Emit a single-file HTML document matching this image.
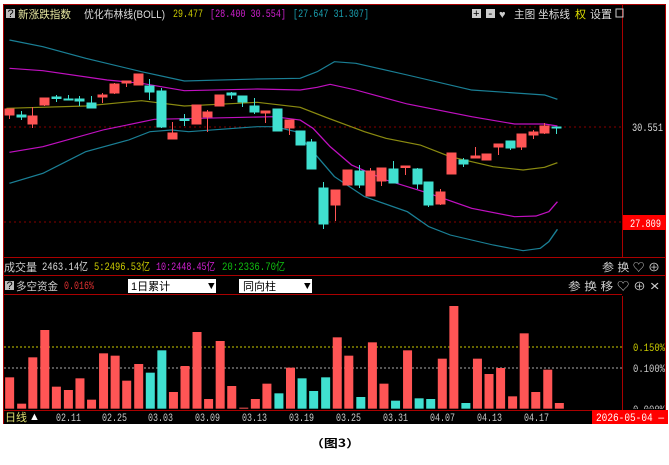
<!DOCTYPE html>
<html><head><meta charset="utf-8"><style>
html,body{margin:0;padding:0;background:#fff;width:669px;height:465px;overflow:hidden}
svg{display:block}
text{font-family:"Liberation Mono","Noto Sans CJK SC",monospace;font-size:11px}
.c{font-family:"Liberation Sans","Noto Sans CJK SC",sans-serif}
</style></head><body>
<svg width="669" height="465" viewBox="0 0 669 465" xmlns="http://www.w3.org/2000/svg">
<rect x="3" y="4" width="663" height="420" fill="#000"/>
<g stroke="#a00" stroke-width="1" fill="none">
<line x1="3" y1="4.5" x2="666" y2="4.5"/>
<line x1="3.5" y1="4" x2="3.5" y2="424"/>
<line x1="665.5" y1="4" x2="665.5" y2="424"/>
<line x1="622.5" y1="4" x2="622.5" y2="258"/>
<line x1="622.5" y1="296" x2="622.5" y2="410"/>
<line x1="3" y1="257.5" x2="666" y2="257.5"/>
<line x1="3" y1="275.5" x2="666" y2="275.5"/>
<line x1="3" y1="294.5" x2="622" y2="294.5"/>
<line x1="3" y1="410.5" x2="622" y2="410.5"/>
</g>
<rect x="6" y="9" width="9" height="9" fill="#bbb"/><text x="7.5" y="17" fill="#000" font-size="9">?</text>
<text x="18" y="18" class="c" fill="#e6e6a0" font-size="12" textLength="53" lengthAdjust="spacingAndGlyphs">新涨跌指数</text>
<text x="84" y="18" class="c" fill="#ddd" font-size="12" textLength="81" lengthAdjust="spacingAndGlyphs">优化布林线(BOLL)</text>
<text x="173" y="17" fill="#cccc00" font-size="12" textLength="30" lengthAdjust="spacingAndGlyphs">29.477</text>
<text x="210" y="17" fill="#d020d0" font-size="12" textLength="76" lengthAdjust="spacingAndGlyphs">[28.400 30.554]</text>
<text x="293" y="17" fill="#1aa0b0" font-size="12" textLength="76" lengthAdjust="spacingAndGlyphs">[27.647 31.307]</text>
<rect x="472" y="9" width="9" height="9" fill="#ccc"/><text x="473" y="17" fill="#000" font-size="10">+</text>
<rect x="486" y="9" width="9" height="9" fill="#ccc"/><text x="487" y="17" fill="#000" font-size="10">-</text>
<text x="499" y="18" class="c" fill="#ccc" font-size="11">♥</text>
<text x="514" y="18" class="c" fill="#ddd" font-size="11" textLength="56" lengthAdjust="spacingAndGlyphs">主图 坐标线</text>
<text x="575" y="18" class="c" fill="#dddd00" font-size="11">权</text>
<text x="590" y="18" class="c" fill="#ddd" font-size="11">设置</text>
<rect x="616" y="9" width="7" height="8" fill="none" stroke="#ccc"/>
<line x1="4" y1="127" x2="622" y2="127" stroke="#800" stroke-dasharray="2,3"/>
<line x1="4" y1="222" x2="622" y2="222" stroke="#800" stroke-dasharray="2,3"/>
<text x="632" y="131" fill="#ddd" font-size="12" textLength="31" lengthAdjust="spacingAndGlyphs">30.551</text>
<rect x="623" y="215" width="43" height="15" fill="#ff0000"/>
<text x="630" y="227" fill="#fff" font-size="12" textLength="31" lengthAdjust="spacingAndGlyphs">27.809</text>
<g transform="scale(0.42878,0.33333)" fill="none" stroke-width="3.5">
<polyline stroke="#1a7f95" points="22,120 100,140 200,175 330,215 430,243 600,237 700,235 740,215 780,185 830,190 950,225 1100,270 1270,285 1300,298"/>
<polyline stroke="#c010c0" points="22,205 100,212 250,240 330,250 430,272 600,267 700,270 740,262 770,253 830,270 950,312 1100,350 1200,372 1270,372 1300,378"/>
<polyline stroke="#8a8a10" points="15,325 200,318 330,302 430,318 600,307 700,322 760,352 850,395 900,415 980,435 1050,470 1150,500 1220,510 1270,502 1300,488"/>
<polyline stroke="#c010c0" points="22,457 100,440 240,390 360,358 640,350 700,360 730,385 770,440 820,495 900,540 1000,580 1100,625 1200,650 1250,648 1280,635 1300,605"/>
<polyline stroke="#1a7f95" points="22,550 100,520 200,455 300,420 350,395 400,390 440,395 600,380 640,380 690,395 720,440 780,530 850,590 950,635 1000,680 1050,705 1150,735 1220,752 1260,745 1280,725 1300,688"/>
</g>
<g stroke-width="1">
<g stroke="#ff5555" fill="#ff5555">
<line x1="9.5" y1="109" x2="9.5" y2="119"/><rect x="5" y="109" width="9" height="6"/>
<line x1="32.5" y1="107" x2="32.5" y2="128"/><rect x="28" y="116" width="9" height="8"/>
<line x1="44.5" y1="98" x2="44.5" y2="106"/><rect x="40" y="98" width="9" height="7"/>
<line x1="102.5" y1="93" x2="102.5" y2="103"/><rect x="98" y="95" width="9" height="2"/>
<line x1="114.5" y1="83" x2="114.5" y2="94"/><rect x="110" y="84" width="9" height="9"/>
<line x1="126.5" y1="81" x2="126.5" y2="87"/><rect x="122" y="81" width="9" height="2"/>
<rect x="134" y="74" width="9" height="11"/>
<line x1="172.5" y1="122" x2="172.5" y2="139"/><rect x="168" y="133" width="9" height="6"/>
<rect x="192" y="105" width="9" height="19"/>
<line x1="207.5" y1="110" x2="207.5" y2="132"/><rect x="203" y="112" width="9" height="5"/>
<rect x="215" y="95" width="9" height="11"/>
<line x1="265.5" y1="111" x2="265.5" y2="123"/><rect x="261" y="111" width="9" height="2"/>
<line x1="289.5" y1="120" x2="289.5" y2="135"/><rect x="285" y="120" width="9" height="8"/>
<line x1="335.5" y1="190" x2="335.5" y2="221"/><rect x="331" y="190" width="9" height="15"/>
<rect x="343" y="170" width="9" height="15"/>
<line x1="370.5" y1="168" x2="370.5" y2="196"/><rect x="366" y="171" width="9" height="25"/>
<line x1="381.5" y1="168" x2="381.5" y2="186"/><rect x="377" y="168" width="9" height="13"/>
<line x1="405.5" y1="166" x2="405.5" y2="175"/><rect x="401" y="166" width="9" height="1.5"/>
<line x1="440.5" y1="189" x2="440.5" y2="205"/><rect x="436" y="192" width="9" height="12"/>
<rect x="447" y="153" width="9" height="21"/>
<line x1="475.5" y1="147" x2="475.5" y2="158"/><rect x="471" y="156" width="9" height="2"/>
<rect x="482" y="154" width="9" height="6"/>
<line x1="498.5" y1="144" x2="498.5" y2="155"/><rect x="494" y="144" width="9" height="3"/>
<line x1="521.5" y1="134" x2="521.5" y2="150"/><rect x="517" y="134" width="9" height="13"/>
<line x1="533.5" y1="130" x2="533.5" y2="139"/><rect x="529" y="132" width="9" height="3"/>
<line x1="544.5" y1="123" x2="544.5" y2="134"/><rect x="540" y="126" width="9" height="7"/>
</g>
<g stroke="#40e0d0" fill="#40e0d0">
<line x1="21.5" y1="111" x2="21.5" y2="120"/><rect x="17" y="115" width="9" height="2"/>
<line x1="56.5" y1="95" x2="56.5" y2="102"/><rect x="52" y="97" width="9" height="1.5"/>
<line x1="68.5" y1="95" x2="68.5" y2="100"/><rect x="64" y="99" width="9" height="1"/>
<line x1="79.5" y1="96" x2="79.5" y2="106"/><rect x="75" y="99" width="9" height="2"/>
<line x1="91.5" y1="96" x2="91.5" y2="108"/><rect x="87" y="103" width="9" height="5"/>
<line x1="149.5" y1="79" x2="149.5" y2="100"/><rect x="145" y="86" width="9" height="6"/>
<line x1="161.5" y1="88" x2="161.5" y2="128"/><rect x="157" y="91" width="9" height="36"/>
<line x1="184.5" y1="114" x2="184.5" y2="126"/><rect x="180" y="119" width="9" height="1.5"/>
<line x1="231.5" y1="92" x2="231.5" y2="99"/><rect x="227" y="93" width="9" height="2"/>
<line x1="242.5" y1="96" x2="242.5" y2="107"/><rect x="238" y="96" width="9" height="6"/>
<line x1="254.5" y1="98" x2="254.5" y2="114"/><rect x="250" y="106" width="9" height="6"/>
<rect x="273" y="109" width="9" height="22"/>
<rect x="296" y="131" width="9" height="14"/>
<line x1="311.5" y1="139" x2="311.5" y2="169"/><rect x="307" y="142" width="9" height="27"/>
<line x1="323.5" y1="182" x2="323.5" y2="229"/><rect x="319" y="188" width="9" height="36"/>
<line x1="359.5" y1="165" x2="359.5" y2="188"/><rect x="355" y="171" width="9" height="14"/>
<line x1="393.5" y1="161" x2="393.5" y2="183"/><rect x="389" y="169" width="9" height="14"/>
<line x1="417.5" y1="168" x2="417.5" y2="189"/><rect x="413" y="169" width="9" height="15"/>
<line x1="428.5" y1="182" x2="428.5" y2="207"/><rect x="424" y="182" width="9" height="23"/>
<line x1="463.5" y1="158" x2="463.5" y2="167"/><rect x="459" y="160" width="9" height="4"/>
<line x1="510.5" y1="141" x2="510.5" y2="150"/><rect x="506" y="141" width="9" height="7"/>
<line x1="556.5" y1="127" x2="556.5" y2="134"/><rect x="552" y="127" width="9" height="1"/>
</g>
</g>
<text x="4" y="271" class="c" fill="#ccc" font-size="12" textLength="33" lengthAdjust="spacingAndGlyphs">成交量</text>
<text x="42" y="270" fill="#ddd" font-size="12" textLength="46" lengthAdjust="spacingAndGlyphs">2463.14亿</text>
<text x="94" y="270" fill="#cccc00" font-size="12" textLength="56" lengthAdjust="spacingAndGlyphs">5:2496.53亿</text>
<text x="156" y="270" fill="#d020d0" font-size="12" textLength="59" lengthAdjust="spacingAndGlyphs">10:2448.45亿</text>
<text x="222" y="270" fill="#10c010" font-size="12" textLength="63" lengthAdjust="spacingAndGlyphs">20:2336.70亿</text>
<text x="602" y="271" class="c" fill="#ccc" font-size="11" textLength="58" lengthAdjust="spacingAndGlyphs">参 换 ♡ ⊕</text>
<rect x="5" y="281" width="9" height="9" fill="#bbb"/><text x="6.5" y="289" fill="#000" font-size="9">?</text>
<text x="16" y="290" class="c" fill="#ccc" font-size="12" textLength="42" lengthAdjust="spacingAndGlyphs">多空资金</text>
<text x="64" y="289" fill="#e03030" font-size="12" textLength="30" lengthAdjust="spacingAndGlyphs">0.016%</text>
<rect x="128" y="279" width="88" height="14" fill="#fff"/>
<text x="131" y="290" class="c" fill="#000" font-size="10">1日累计</text><text x="208" y="289" fill="#000" font-size="6">▼</text>
<rect x="239" y="279" width="73" height="14" fill="#fff"/>
<text x="243" y="290" class="c" fill="#000" font-size="10">同向柱</text><text x="304" y="289" fill="#000" font-size="6">▼</text>
<text x="568" y="290" class="c" fill="#ccc" font-size="11" textLength="92" lengthAdjust="spacingAndGlyphs">参 换 移 ♡ ⊕ ✕</text>
<line x1="4" y1="347" x2="622" y2="347" stroke="#cccc00" stroke-dasharray="2,2"/>
<line x1="4" y1="368" x2="622" y2="368" stroke="#aaa" stroke-dasharray="2,2"/>
<text x="633" y="351" fill="#cccc00" font-size="12" textLength="32" lengthAdjust="spacingAndGlyphs">0.150%</text>
<text x="633" y="372" fill="#ccc" font-size="12" textLength="32" lengthAdjust="spacingAndGlyphs">0.100%</text>
<text x="633" y="413" fill="#ccc" font-size="12" textLength="32" lengthAdjust="spacingAndGlyphs">0.000%</text>
<rect x="623" y="409" width="42" height="2" fill="#000"/>
<g transform="translate(0,290) scale(0.42878,0.33333)">
<g fill="#ff5555">
<rect x="12" y="262" width="21" height="94"/><rect x="40" y="341" width="21" height="15"/><rect x="66" y="202" width="21" height="154"/><rect x="94" y="120" width="21" height="236"/>
<rect x="121" y="290" width="21" height="66"/><rect x="149" y="300" width="21" height="56"/><rect x="176" y="265" width="21" height="91"/><rect x="203" y="329" width="21" height="27"/>
<rect x="231" y="190" width="21" height="166"/><rect x="258" y="197" width="21" height="159"/><rect x="285" y="272" width="21" height="84"/><rect x="313" y="222" width="21" height="134"/>
<rect x="394" y="306" width="21" height="50"/><rect x="421" y="228" width="21" height="128"/><rect x="449" y="126" width="21" height="230"/><rect x="476" y="327" width="21" height="29"/>
<rect x="503" y="153" width="21" height="203"/><rect x="530" y="288" width="21" height="68"/><rect x="558" y="353" width="21" height="3"/><rect x="585" y="327" width="21" height="29"/>
<rect x="612" y="281" width="21" height="75"/><rect x="667" y="233" width="21" height="123"/><rect x="776" y="142" width="21" height="214"/><rect x="803" y="197" width="21" height="159"/>
<rect x="858" y="157" width="21" height="199"/><rect x="885" y="281" width="21" height="75"/><rect x="940" y="181" width="21" height="175"/><rect x="1021" y="206" width="21" height="150"/>
<rect x="1048" y="48" width="21" height="308"/><rect x="1103" y="206" width="21" height="150"/><rect x="1130" y="252" width="21" height="104"/><rect x="1157" y="234" width="21" height="122"/>
<rect x="1185" y="319" width="21" height="37"/><rect x="1212" y="130" width="21" height="226"/><rect x="1239" y="306" width="21" height="50"/><rect x="1267" y="239" width="21" height="117"/>
<rect x="1294" y="339" width="21" height="17"/>
</g>
<g fill="#40e0d0">
<rect x="340" y="248" width="21" height="108"/><rect x="367" y="181" width="21" height="175"/><rect x="640" y="310" width="21" height="46"/><rect x="694" y="265" width="21" height="91"/>
<rect x="721" y="303" width="21" height="53"/><rect x="749" y="262" width="21" height="94"/><rect x="831" y="321" width="21" height="35"/><rect x="912" y="332" width="21" height="24"/>
<rect x="967" y="325" width="21" height="31"/><rect x="994" y="327" width="21" height="29"/><rect x="1076" y="339" width="21" height="17"/>
</g>
</g>
<text x="5" y="421" class="c" fill="#dddd70" font-size="12">日线</text><text x="29" y="420" class="c" fill="#fff" font-size="10">▲</text>
<g fill="#ccc" font-size="12">
<text x="56" y="421" textLength="25" lengthAdjust="spacingAndGlyphs">02.11</text><text x="102" y="421" textLength="25" lengthAdjust="spacingAndGlyphs">02.25</text><text x="148" y="421" textLength="25" lengthAdjust="spacingAndGlyphs">03.03</text><text x="195" y="421" textLength="25" lengthAdjust="spacingAndGlyphs">03.09</text>
<text x="242" y="421" textLength="25" lengthAdjust="spacingAndGlyphs">03.13</text><text x="289" y="421" textLength="25" lengthAdjust="spacingAndGlyphs">03.19</text><text x="336" y="421" textLength="25" lengthAdjust="spacingAndGlyphs">03.25</text><text x="383" y="421" textLength="25" lengthAdjust="spacingAndGlyphs">03.31</text>
<text x="430" y="421" textLength="25" lengthAdjust="spacingAndGlyphs">04.07</text><text x="477" y="421" textLength="25" lengthAdjust="spacingAndGlyphs">04.13</text><text x="524" y="421" textLength="25" lengthAdjust="spacingAndGlyphs">04.17</text>
</g>
<rect x="592" y="410" width="76" height="14" fill="#ff0000"/>
<text x="596" y="421" fill="#fff" font-size="12" textLength="68" lengthAdjust="spacingAndGlyphs">2026-05-04 —</text>
<text x="310" y="447" style="font-family:'Noto Sans CJK SC','WenQuanYi Zen Hei',sans-serif" fill="#000" font-size="16" font-weight="bold" textLength="50" lengthAdjust="spacingAndGlyphs">（图3）</text>
</svg>
</body></html>
